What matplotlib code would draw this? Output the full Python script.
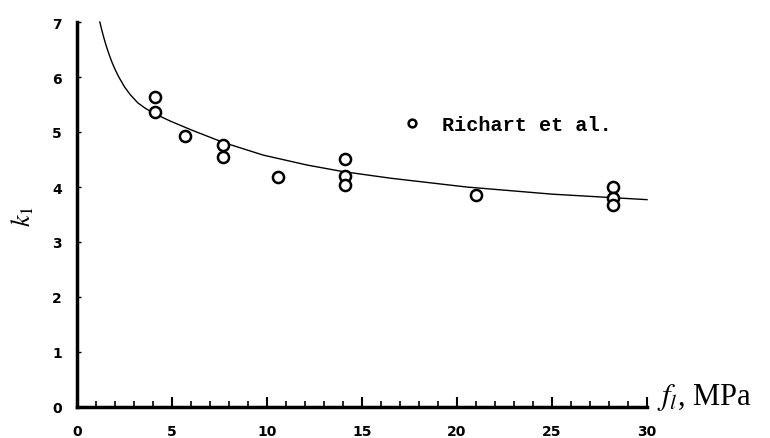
import matplotlib
matplotlib.use("Agg")
import matplotlib.pyplot as plt
from matplotlib.ticker import MultipleLocator

# Test data: lateral confining pressure f_l (MPa) and measured k1
fl_data = [4.1, 4.1, 5.7, 7.7, 7.7, 10.6, 14.1, 14.1, 14.1, 21.0, 28.2, 28.2, 28.2]
k1_data = [5.63, 5.37, 4.93, 4.76, 4.55, 4.18, 4.51, 4.20, 4.04, 3.85, 4.00, 3.80, 3.68]

# Fitted trend curve, sampled along its length
curve_fl = [1.2, 1.3, 1.4, 1.5, 1.6, 1.7, 1.85, 2.0, 2.2, 2.5, 2.8, 3.2, 3.6, 4.1,
            4.9, 6.0, 7.7, 9.8, 12.1, 14.0, 16.5, 20.5, 25.0, 30.0]
curve_k1 = [7.00, 6.86, 6.73, 6.61, 6.50, 6.40, 6.26, 6.14, 6.00, 5.82, 5.68, 5.53,
            5.43, 5.33, 5.20, 5.04, 4.81, 4.58, 4.40, 4.28, 4.16, 4.00, 3.87, 3.77]

x_ticks = [0, 5, 10, 15, 20, 25, 30]
y_ticks = [0, 1, 2, 3, 4, 5, 6, 7]
series_label = "Richart et al."

plt.rcParams["mathtext.fontset"] = "stix"

fig = plt.figure(figsize=(7.7, 4.39), dpi=100)
ax = fig.add_axes([77 / 770, 1 - 408 / 439, 570 / 770, 385 / 439])

ax.plot(curve_fl, curve_k1, color="black", lw=1.0, clip_on=False, zorder=2,
        solid_joinstyle="round")
ax.plot(fl_data, k1_data, linestyle="none", marker="o", markersize=8,
        markerfacecolor="white", markeredgecolor="black", markeredgewidth=1.8,
        clip_on=False, zorder=3, label=series_label)

ax.set_xlim(0, 30)
ax.set_ylim(0, 7)

for side in ("top", "right"):
    ax.spines[side].set_visible(False)
for side in ("left", "bottom"):
    ax.spines[side].set_linewidth(2.5)
    ax.spines[side].set_color("black")

ax.set_xticks(x_ticks)
ax.set_yticks(y_ticks)
ax.xaxis.set_minor_locator(MultipleLocator(1))
ax.tick_params(axis="x", which="major", direction="in", length=7, width=1.5, pad=12)
ax.tick_params(axis="x", which="minor", direction="in", length=4, width=1.2)
ax.tick_params(axis="y", which="major", direction="in", length=3, width=1.0, pad=11)
for lab in ax.get_xticklabels() + ax.get_yticklabels():
    lab.set_fontweight("bold")
    lab.set_fontsize(10)
    lab.set_fontfamily("DejaVu Sans")

# axis titles
fig.text(23 / 770, 1 - 216 / 439, r"$k_1$", rotation=90, fontsize=19,
         ha="center", va="center", family="Liberation Serif")
fig.text(657 / 770, 1 - 405 / 439, r"$f_l$, MPa", fontsize=22,
         ha="left", va="baseline", family="Liberation Serif")

leg = ax.legend(loc="center left", bbox_to_anchor=(402 / 770, 1 - 126 / 439),
                bbox_transform=fig.transFigure, frameon=False, numpoints=1,
                handlelength=1.0, handletextpad=1.0, borderpad=0, borderaxespad=0,
                markerscale=0.7,
                prop={"family": "Liberation Mono", "weight": "bold", "size": 14.5})

fig.savefig("out.png", dpi=100)
